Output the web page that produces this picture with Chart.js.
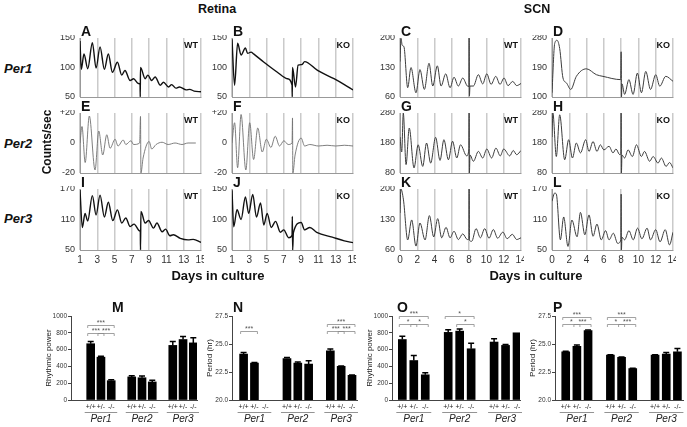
<!DOCTYPE html>
<html>
<head>
<meta charset="utf-8">
<script src="https://cdn.jsdelivr.net/npm/chart.js@4.4.1/dist/chart.umd.min.js"></script>
<style>
  body { margin: 0; background: #fff; }
  #fig { position: relative; width: 687px; height: 427px; overflow: hidden; font-family: "Liberation Sans", Arial, sans-serif; }
  #fig canvas { position: absolute; }
  .t { position: absolute; white-space: nowrap; color: #111; line-height: 1; }
</style>
</head>
<body>
<div id="fig"></div>
<script>
// ---- bioluminescence traces (days in culture, counts/sec) ----
const retinaDays = [1, 3, 5, 7, 9, 11, 13, 15];
const scnDays = [0, 2, 4, 6, 8, 10, 12, 14];

const aDay = [1.0, 1.15, 1.46, 1.9, 2.43, 2.86, 3.32, 3.82, 4.28, 4.75, 5.33, 5.83, 6.2, 6.8, 7.2, 7.75, 7.95, 7.97, 8.0, 8.54, 8.85, 9.3, 9.7, 10.28, 10.66, 11.25, 11.6, 12.1, 12.5, 13.3, 13.7, 14.2, 15];
const aCounts = [145, 97, 123, 98, 142, 99, 135, 97, 123, 92, 109, 87, 95, 78, 81, 73, 72, 50, 100, 81, 87, 78, 84, 70, 75, 67, 71, 65, 67, 62, 63, 60, 59];

const bDay = [1.0, 1.3, 1.65, 2.05, 2.55, 2.8, 3.2, 3.5, 4.7, 6.25, 7.4, 7.95, 7.97, 8.0, 8.35, 8.65, 9.1, 9.4, 10.9, 12.8, 14.0, 15];
const bCounts = [148, 70, 141, 121, 133, 124, 126, 123, 109, 92, 81, 70, 50, 100, 67, 104, 105, 110, 95, 81, 71, 62];

const eDay = [1.0, 1.23, 1.6, 2.08, 2.74, 3.17, 3.63, 4.1, 4.48, 5.06, 5.4, 6.0, 6.3, 6.9, 7.2, 7.9, 8.0, 8.05, 8.3, 9.0, 9.3, 9.8, 10.5, 11.2, 12.0, 12.8, 13.5, 14.4];
const eCounts = [0, 11, -13, 18, -18, 8, -8, 5.5, -3.5, 2.5, -2, 2, -1, 1.5, -1, 0, 17.7, -20, -10, 1, -4, -1, 0.5, -1, 0, -1, 0, 0];

const fDay = [1.0, 1.3, 1.65, 2.05, 2.6, 3.05, 3.5, 3.98, 4.5, 4.98, 5.5, 6.0, 6.5, 7.0, 7.5, 7.95, 8.0, 8.04, 8.3, 9.0, 9.4, 10, 11, 12, 13, 14, 15];
const fCounts = [0, 13.5, -16.5, 19, -18, 13.5, -11, 10, -6, 2.5, -3, 4.5, -2, 1.5, -1, 0, 16.7, -20, -8, 3.3, -2, -1, -2, -1.5, -2, -1.5, -2];

const iDay = [1.0, 1.27, 1.58, 1.89, 2.43, 2.86, 3.32, 3.82, 4.28, 4.79, 5.33, 5.83, 6.3, 6.8, 7.26, 7.88, 7.98, 8.0, 8.05, 8.54, 8.93, 9.5, 9.9, 10.5, 10.9, 11.4, 11.8, 12.6, 13.5, 14.1, 15];
const iCounts = [168, 94, 122, 107, 157, 119, 158, 115, 144, 108, 129, 103, 113, 96, 101, 88, 86, 50, 126, 103, 108, 93, 103, 86, 91, 78, 80, 73, 70, 71, 65];

const jDay = [1.0, 1.2, 1.58, 2.05, 2.55, 2.93, 3.4, 3.83, 4.3, 4.68, 5.07, 5.54, 6.04, 6.6, 6.99, 7.56, 7.95, 7.98, 8.02, 8.1, 9.0, 9.4, 10.0, 10.8, 12.6, 14.0, 15];
const jCounts = [148, 88, 116, 100, 137, 110, 141, 104, 127, 91, 110, 87, 97, 79, 83, 70, 74, 105, 50, 78, 95, 83, 87, 79, 71, 65, 62];

const cDay = [0, 0.12, 0.25, 0.46, 0.89, 1.27, 1.85, 2.31, 2.82, 3.36, 3.79, 4.32, 4.75, 5.29, 5.79, 6.25, 6.75, 7.26, 7.79, 7.98, 8.0, 8.03, 8.1, 8.49, 9.07, 9.57, 10.04, 10.54, 11.08, 11.57, 12.04, 12.5, 13.04, 13.5, 14];
const cCounts = [144, 199, 183, 179, 82, 130, 70, 125, 78, 140, 86, 134, 86, 115, 82, 107, 86, 105, 86, 85, 200, 62, 86, 86, 113, 91, 115, 90, 109, 90, 105, 87, 97, 87, 92];

const dDay = [0, 0.31, 0.58, 0.89, 1.27, 1.67, 2.17, 2.82, 3.98, 5.14, 5.9, 7.95, 8.0, 8.04, 8.1, 8.4, 8.9, 9.38, 9.88, 10.35, 10.85, 11.4, 12.0, 12.47, 13.16, 14];
const dCounts = [113, 263, 273, 248, 158, 143, 123, 163, 186, 168, 163, 153, 238, 100, 140, 108, 153, 108, 173, 113, 178, 123, 168, 133, 163, 148];

const gDay = [0, 0.2, 0.38, 0.7, 1.07, 1.62, 2.1, 2.63, 3.07, 3.55, 4.12, 4.63, 5.08, 5.6, 6.08, 6.57, 7.0, 7.72, 7.97, 8.0, 8.03, 8.1, 8.49, 9.07, 9.57, 10.04, 10.6, 11.1, 11.6, 12.0, 12.7, 13.1, 13.5, 14];
const gCounts = [200, 150, 280, 108, 230, 97, 174, 102, 180, 113, 199, 122, 191, 124, 186, 130, 174, 137, 160, 280, 80, 140, 119, 152, 130, 160, 130, 163, 137, 160, 137, 155, 141, 155];

const hDay = [0, 0.1, 0.5, 0.89, 1.47, 1.93, 2.36, 2.82, 3.29, 3.9, 4.28, 4.75, 5.2, 5.6, 6.0, 6.6, 7.06, 7.4, 7.84, 7.97, 8.0, 8.03, 8.1, 8.4, 8.8, 9.3, 9.77, 10.35, 10.7, 11.3, 11.7, 12.27, 12.65, 13.2, 13.6, 14];
const hCounts = [200, 280, 135, 274, 124, 191, 130, 180, 147, 191, 152, 185, 152, 174, 157, 169, 147, 160, 141, 145, 280, 80, 140, 130, 157, 135, 174, 135, 152, 119, 135, 113, 130, 102, 115, 97];

const kDay = [0, 0.1, 0.4, 0.89, 1.35, 1.85, 2.31, 2.9, 3.4, 3.9, 4.36, 4.82, 5.33, 5.79, 6.25, 6.75, 7.26, 7.79, 7.97, 8.0, 8.04, 8.3, 8.8, 9.3, 9.8, 10.3, 10.8, 11.3, 11.9, 12.4, 13.0, 13.5, 14];
const kCounts = [145, 200, 175, 83, 129, 69, 122, 83, 139, 90, 132, 88, 112, 88, 103, 84, 97, 84, 85, 200, 82, 80, 109, 88, 109, 87, 107, 87, 101, 86, 96, 84, 88];

const lDay = [0, 0.31, 0.5, 0.97, 1.35, 1.85, 2.3, 2.9, 3.29, 3.8, 4.28, 4.75, 5.2, 5.7, 6.2, 6.6, 7.1, 7.6, 7.97, 8.0, 8.03, 8.1, 8.4, 8.9, 9.4, 9.9, 10.4, 11.0, 11.4, 12.0, 12.5, 13.1, 13.6, 14];
const lCounts = [146, 162, 160, 70, 115, 57, 109, 76, 124, 80, 119, 77, 101, 70, 88, 70, 83, 63, 70, 160, 50, 75, 70, 88, 70, 93, 72, 93, 70, 90, 66, 90, 60, 85];

// ---- summary bars: Per1, Per2, Per3 x (+/+, +/-, -/-) ----
const genotypes = ['+/+', '+/-', '-/-'];
const genes = ['Per1', 'Per2', 'Per3'];
const retinaPower = [670, 510, 230, 275, 265, 215, 650, 720, 680];
const retinaPowerSem = [25, 12, 10, 15, 20, 20, 45, 35, 60];
const retinaPeriod = [24.1, 23.3, null, 23.7, 23.3, 23.2, 24.4, 23.0, 22.2];
const retinaPeriodSem = [0.15, 0.05, 0, 0.1, 0.1, 0.3, 0.15, 0.03, 0.03];
const scnPower = [720, 470, 300, 805, 820, 610, 690, 650, 800];
const scnPowerSem = [40, 60, 25, 30, 25, 65, 40, 10, 0];
const scnPeriod = [24.3, 24.8, 26.2, 24.0, 23.8, 22.8, 24.0, 24.1, 24.3];
const scnPeriodSem = [0.05, 0.1, 0.05, 0.05, 0.03, 0.03, 0.05, 0.15, 0.3];

// significance: [from bar, to bar, level, stars]
const mSig = [[0, 2, 890, '***'], [0, 1, 800, '***'], [1, 2, 800, '***']];
const nSig = [[0, 1, 26.2, '***'], [6, 8, 26.8, '***'], [6, 7, 26.2, '***'], [7, 8, 26.2, '***']];
const oSig = [[0, 2, 995, '***'], [0, 1, 910, '*'], [1, 2, 910, '*'], [3, 5, 995, '*'], [4, 5, 910, '*']];
const pSig = [[0, 2, 27.45, '***'], [0, 1, 26.8, '*'], [1, 2, 26.8, '***'], [3, 5, 27.45, '***'], [3, 4, 26.8, '*'], [4, 5, 26.8, '***']];

const FONT = '"Liberation Sans", Arial, sans-serif';
Chart.defaults.font.family = FONT;
const fig = document.getElementById('fig');

function label(str, x, y, css) {
  const d = document.createElement('div');
  d.className = 't';
  d.textContent = str;
  d.style.cssText += css;
  d.style.left = x + 'px';
  d.style.top = y + 'px';
  fig.appendChild(d);
  return d;
}

function addCanvas(left, top, w, h) {
  const c = document.createElement('canvas');
  c.width = w; c.height = h;
  c.style.left = left + 'px'; c.style.top = top + 'px';
  c.style.width = w + 'px'; c.style.height = h + 'px';
  fig.appendChild(c);
  return c;
}

// kind: 'raw' (retina counts), 'detrend' (retina Per2), 'scn'
const traceStyle = {
  raw: { color: '#111', width: 1.4 },
  detrend: { color: '#707070', width: 0.9 },
  scn: { color: '#3c3c3c', width: 1.0 }
};

function tracePanel(box, days, counts, xTicks, yTicks, yLabels, kind, showX) {
  const padL = 40, padT = 3, padR = 3, padB = showX ? 16 : 2;
  const c = addCanvas(box.x - padL, box.y - padT, box.w + padL + padR, box.h + padT + padB);
  new Chart(c, {
    type: 'line',
    data: {
      datasets: [{
        data: days.map((d, i) => ({ x: d, y: counts[i] })),
        borderColor: traceStyle[kind].color,
        borderWidth: traceStyle[kind].width,
        pointRadius: 0,
        cubicInterpolationMode: 'monotone',
        fill: false
      }]
    },
    options: {
      responsive: false, animation: false, events: [],
      layout: { padding: { top: padT, right: padR, left: 0, bottom: 0 } },
      plugins: { legend: { display: false }, tooltip: { enabled: false } },
      scales: {
        x: {
          type: 'linear', min: xTicks[0], max: xTicks[xTicks.length - 1],
          afterBuildTicks: s => { s.ticks = xTicks.map(v => ({ value: v })); },
          afterFit: s => { s.height = padB; s.paddingLeft = 0; s.paddingRight = 0; },
          grid: { color: '#cacaca', lineWidth: 1.5, drawTicks: false },
          border: { color: '#999', width: 1 },
          ticks: { display: showX, padding: 4, font: { size: 10 }, color: '#333', maxRotation: 0, autoSkip: false }
        },
        y: {
          min: yTicks[0], max: yTicks[2],
          afterBuildTicks: s => { s.ticks = yTicks.map(v => ({ value: v })); },
          afterFit: s => { s.width = padL; s.paddingTop = 0; s.paddingBottom = 0; },
          grid: { display: false, drawTicks: false },
          border: { color: '#999', width: 1 },
          ticks: { padding: 5, font: { size: 9 }, color: '#333', callback: (v, i) => yLabels[i] }
        }
      }
    }
  });
}

const slots = [1, 2, 3, 5, 6, 7, 9, 10, 11];

const barDecor = {
  id: 'barDecor',
  afterDraw(chart, args, o) {
    const { ctx, chartArea: a } = chart;
    const x = chart.scales.x, y = chart.scales.y;
    ctx.save();
    // error bars
    ctx.strokeStyle = '#000'; ctx.lineWidth = 1.5;
    o.means.forEach((m, i) => {
      if (m == null || !o.errs[i]) return;
      const px = x.getPixelForValue(slots[i]);
      const y0 = y.getPixelForValue(m), y1 = y.getPixelForValue(m + o.errs[i]);
      ctx.beginPath();
      ctx.moveTo(px, y0); ctx.lineTo(px, y1);
      ctx.moveTo(px - 3, y1); ctx.lineTo(px + 3, y1);
      ctx.stroke();
    });
    // significance brackets
    ctx.strokeStyle = '#8a8a8a'; ctx.lineWidth = 0.8; ctx.fillStyle = '#555';
    ctx.font = '7px ' + FONT; ctx.textAlign = 'center'; ctx.textBaseline = 'bottom';
    o.sig.forEach(([i1, i2, lvl, s]) => {
      const x1 = x.getPixelForValue(slots[i1]) - 3, x2 = x.getPixelForValue(slots[i2]) + 3;
      const yy = Math.round(y.getPixelForValue(lvl)) + 0.5;
      ctx.beginPath();
      ctx.moveTo(x1, yy + 2.5); ctx.lineTo(x1, yy); ctx.lineTo(x2, yy); ctx.lineTo(x2, yy + 2.5);
      ctx.stroke();
      ctx.fillText(s, (x1 + x2) / 2, yy + 1);
    });
    // genotype + gene labels
    ctx.fillStyle = '#222'; ctx.textBaseline = 'middle';
    ctx.font = '7px ' + FONT;
    slots.forEach((s, i) => ctx.fillText(genotypes[i % 3], x.getPixelForValue(s), a.bottom + 7));
    ctx.strokeStyle = '#777'; ctx.lineWidth = 0.8;
    genes.forEach((g, k) => {
      const xl = x.getPixelForValue(slots[k * 3]) - 6, xr = x.getPixelForValue(slots[k * 3 + 2]) + 6;
      ctx.beginPath(); ctx.moveTo(xl, a.bottom + 12.5); ctx.lineTo(xr, a.bottom + 12.5); ctx.stroke();
      ctx.font = 'italic 10px ' + FONT;
      ctx.fillText(g, (xl + xr) / 2, a.bottom + 19);
    });
    // y title
    ctx.translate(a.left - 22, (a.top + a.bottom) / 2);
    ctx.rotate(-Math.PI / 2);
    ctx.font = '8px ' + FONT; ctx.fillStyle = '#222';
    ctx.fillText(o.title, 0, 0);
    ctx.restore();
  }
};

function barPanel(box, xRange, means, errs, yMin, yMax, yStep, fmt, title, sig) {
  const padL = 30, padT = 14, padR = 2, padB = 27;
  const c = addCanvas(box.x - padL, box.y - padT, box.w + padL + padR, box.h + padT + padB);
  const pts = [];
  means.forEach((m, i) => { if (m != null) pts.push({ x: slots[i], y: m }); });
  new Chart(c, {
    type: 'bar',
    data: { datasets: [{ data: pts, backgroundColor: '#000', barThickness: 8 }] },
    options: {
      responsive: false, animation: false, events: [],
      layout: { padding: { top: padT, right: padR, left: 0, bottom: 0 } },
      plugins: {
        legend: { display: false }, tooltip: { enabled: false },
        barDecor: { means: means, errs: errs, sig: sig, title: title }
      },
      scales: {
        x: {
          type: 'linear', offset: false, min: xRange[0], max: xRange[1],
          afterFit: s => { s.height = padB; s.paddingLeft = 0; s.paddingRight = 0; },
          grid: { display: false }, border: { color: '#444', width: 1 },
          ticks: { display: false }
        },
        y: {
          min: yMin, max: yMax,
          afterBuildTicks: s => { const t = []; for (let v = yMin; v <= yMax + 1e-9; v += yStep) t.push({ value: v }); s.ticks = t; },
          afterFit: s => { s.width = padL; s.paddingTop = 0; s.paddingBottom = 0; },
          grid: { drawOnChartArea: false, drawTicks: true, tickLength: 3, color: '#444' },
          border: { color: '#444', width: 1 },
          ticks: { padding: 1, font: { size: 6.5 }, color: '#333', callback: v => fmt(v) }
        }
      }
    },
    plugins: [barDecor]
  });
}

// ---- layout ----
const cols = [80, 232, 400, 552];
const rows = [{ y: 38, h: 59 }, { y: 113, h: 60 }, { y: 189, h: 61 }];
const W = 121;
const box = (c, r) => ({ x: cols[c], y: rows[r].y, w: W, h: rows[r].h });

tracePanel(box(0, 0), aDay, aCounts, retinaDays, [50, 100, 150], ['50', '100', '150'], 'raw', false);
tracePanel(box(1, 0), bDay, bCounts, retinaDays, [50, 100, 150], ['50', '100', '150'], 'raw', false);
tracePanel(box(2, 0), cDay, cCounts, scnDays, [60, 130, 200], ['60', '130', '200'], 'scn', false);
tracePanel(box(3, 0), dDay, dCounts, scnDays, [100, 190, 280], ['100', '190', '280'], 'scn', false);
tracePanel(box(0, 1), eDay, eCounts, retinaDays, [-20, 0, 20], ['-20', '0', '+20'], 'detrend', false);
tracePanel(box(1, 1), fDay, fCounts, retinaDays, [-20, 0, 20], ['-20', '0', '+20'], 'detrend', false);
tracePanel(box(2, 1), gDay, gCounts, scnDays, [80, 180, 280], ['80', '180', '280'], 'scn', false);
tracePanel(box(3, 1), hDay, hCounts, scnDays, [80, 180, 280], ['80', '180', '280'], 'scn', false);
tracePanel(box(0, 2), iDay, iCounts, retinaDays, [50, 110, 170], ['50', '110', '170'], 'raw', true);
tracePanel(box(1, 2), jDay, jCounts, retinaDays, [50, 100, 150], ['50', '100', '150'], 'raw', true);
tracePanel(box(2, 2), kDay, kCounts, scnDays, [60, 130, 200], ['60', '130', '200'], 'scn', true);
tracePanel(box(3, 2), lDay, lCounts, scnDays, [50, 110, 170], ['50', '110', '170'], 'scn', true);

const fmtInt = v => String(Math.round(v));
const fmt1 = v => v.toFixed(1);
barPanel({ x: 71, y: 316, w: 126, h: 84 }, [-0.92, 11.36], retinaPower, retinaPowerSem, 0, 1000, 200, fmtInt, 'Rhythmic power', mSig);
barPanel({ x: 232, y: 316, w: 125, h: 84 }, [-0.07, 11.46], retinaPeriod, retinaPeriodSem, 20, 27.5, 2.5, fmt1, 'Period (hr)', nSig);
barPanel({ x: 392, y: 316, w: 128, h: 84 }, [0.1, 11.26], scnPower, scnPowerSem, 0, 1000, 200, fmtInt, 'Rhythmic power', oSig);
barPanel({ x: 555, y: 316, w: 128, h: 84 }, [0.04, 11.5], scnPeriod, scnPeriodSem, 20, 27.5, 2.5, fmt1, 'Period (hr)', pSig);

// ---- text ----
const bold = 'font-weight:bold;';
const center = 'transform:translate(-50%,-50%);';
label('Retina', 217, 9, bold + center + 'font-size:12.5px;');
label('SCN', 537, 9, bold + center + 'font-size:12.5px;');
label('Per1', 4, 62, bold + 'font-style:italic;font-size:13px;');
label('Per2', 4, 137, bold + 'font-style:italic;font-size:13px;');
label('Per3', 4, 212, bold + 'font-style:italic;font-size:13px;');
label('Counts/sec', 47, 142, bold + 'font-size:12px;transform:translate(-50%,-50%) rotate(-90deg);');
label('Days in culture', 218, 275, bold + center + 'font-size:13px;');
label('Days in culture', 536, 275, bold + center + 'font-size:13px;');

const letters = ['A', 'B', 'C', 'D', 'E', 'F', 'G', 'H', 'I', 'J', 'K', 'L'];
const tags = ['WT', 'KO', 'WT', 'KO'];
for (let r = 0; r < 3; r++) {
  for (let c = 0; c < 4; c++) {
    label(letters[r * 4 + c], cols[c] + 1, rows[r].y - 14, bold + 'font-size:14px;');
    label(tags[c], cols[c] + W - 3, rows[r].y + 3, bold + 'font-size:9px;transform:translateX(-100%);');
  }
}
label('M', 112, 300, bold + 'font-size:14px;');
label('N', 233, 300, bold + 'font-size:14px;');
label('O', 397, 300, bold + 'font-size:14px;');
label('P', 553, 300, bold + 'font-size:14px;');
</script>
</body>
</html>
